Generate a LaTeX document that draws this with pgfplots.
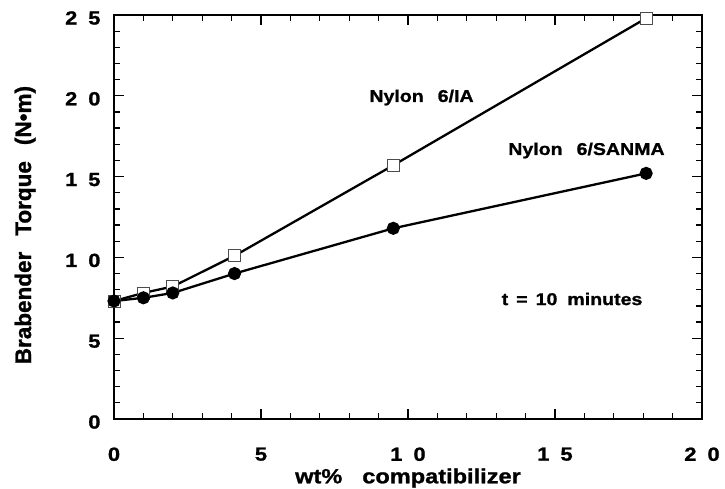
\documentclass[border=0pt]{standalone}
\usepackage{fontspec}
\setmainfont{Liberation Sans}[FakeStretch=1.15, BoldFeatures={FakeBold=1.2}]
\newfontfamily\ylfont{Liberation Sans}[BoldFeatures={FakeBold=1.2}]
\usepackage{pgfplots}
\pgfplotsset{compat=1.18}
\newcommand{\tg}{\hspace{11pt}}
\begin{document}
\begin{tikzpicture}
\begin{axis}[name=ax, scale only axis, width=588pt, height=404pt,
  xmin=0, xmax=20, ymin=0, ymax=25,
  xtick={0,5,10,15,20}, xticklabels={0,5,1\tg 0,1\tg 5,2\tg 0},
  ytick={0,5,10,15,20,25}, yticklabels={0,5,1\tg 0,1\tg 5,2\tg 0,2\tg 5},
  minor x tick num=4, minor y tick num=4,
  tick align=inside, major tick length=10pt, minor tick length=6pt,
  axis line style={line width=2pt},
  every tick/.style={line width=1.3pt, black},
  tick label style={font=\fontsize{19}{21}\selectfont\bfseries},
  xticklabel style={yshift=-25pt},
  yticklabel style={xshift=-10pt, yshift=-3pt},
  xlabel={wt\%\hspace{20pt}compatibilizer},
  ylabel={Brabender\hspace{16pt}Torque\hspace{16pt}(N•m)},
  xlabel style={font=\fontsize{20.5}{22}\selectfont\bfseries, at={(axis description cs:0.5,-0.146)}, anchor=center},
  ylabel style={font=\ylfont\fontsize{22.5}{24}\selectfont\bfseries, at={(axis description cs:-0.151,0.48)}, anchor=center, rotate=0},
  clip=false,
]
\addplot[black, line width=2.3pt, mark=square*, mark size=6pt,
  mark options={solid, fill=white, draw=black!70, line width=0.7pt}]
  coordinates {(0,7.3) (1,7.8) (2,8.2) (4.1,10.1) (9.5,15.7) (18.1,24.8)};
\addplot[black, line width=2.3pt, mark=*, mark size=5.4pt,
  mark options={solid, fill=black}]
  coordinates {(0,7.3) (1,7.5) (2,7.8) (4.1,9.0) (9.5,11.8) (18.1,15.2)};
\node[font=\fontsize{17}{19}\selectfont\bfseries, anchor=base] at (axis cs:10.46,19.62) {Nylon\hspace{14pt}6/IA};
\node[font=\fontsize{17}{19}\selectfont\bfseries, anchor=base] at (axis cs:16.07,16.34) {Nylon\hspace{14pt}6/SANMA};
\node[font=\fontsize{17}{19}\selectfont\bfseries, anchor=base] at (axis cs:15.58,7.05) {t\hspace{8pt}=\hspace{8pt}10\hspace{10pt}minutes};
\end{axis}
\pgfresetboundingbox
\path[use as bounding box] (ax.south west) ++(-114pt,-70pt) rectangle ([shift={(23pt,15pt)}]ax.north east);
\end{tikzpicture}
\end{document}
